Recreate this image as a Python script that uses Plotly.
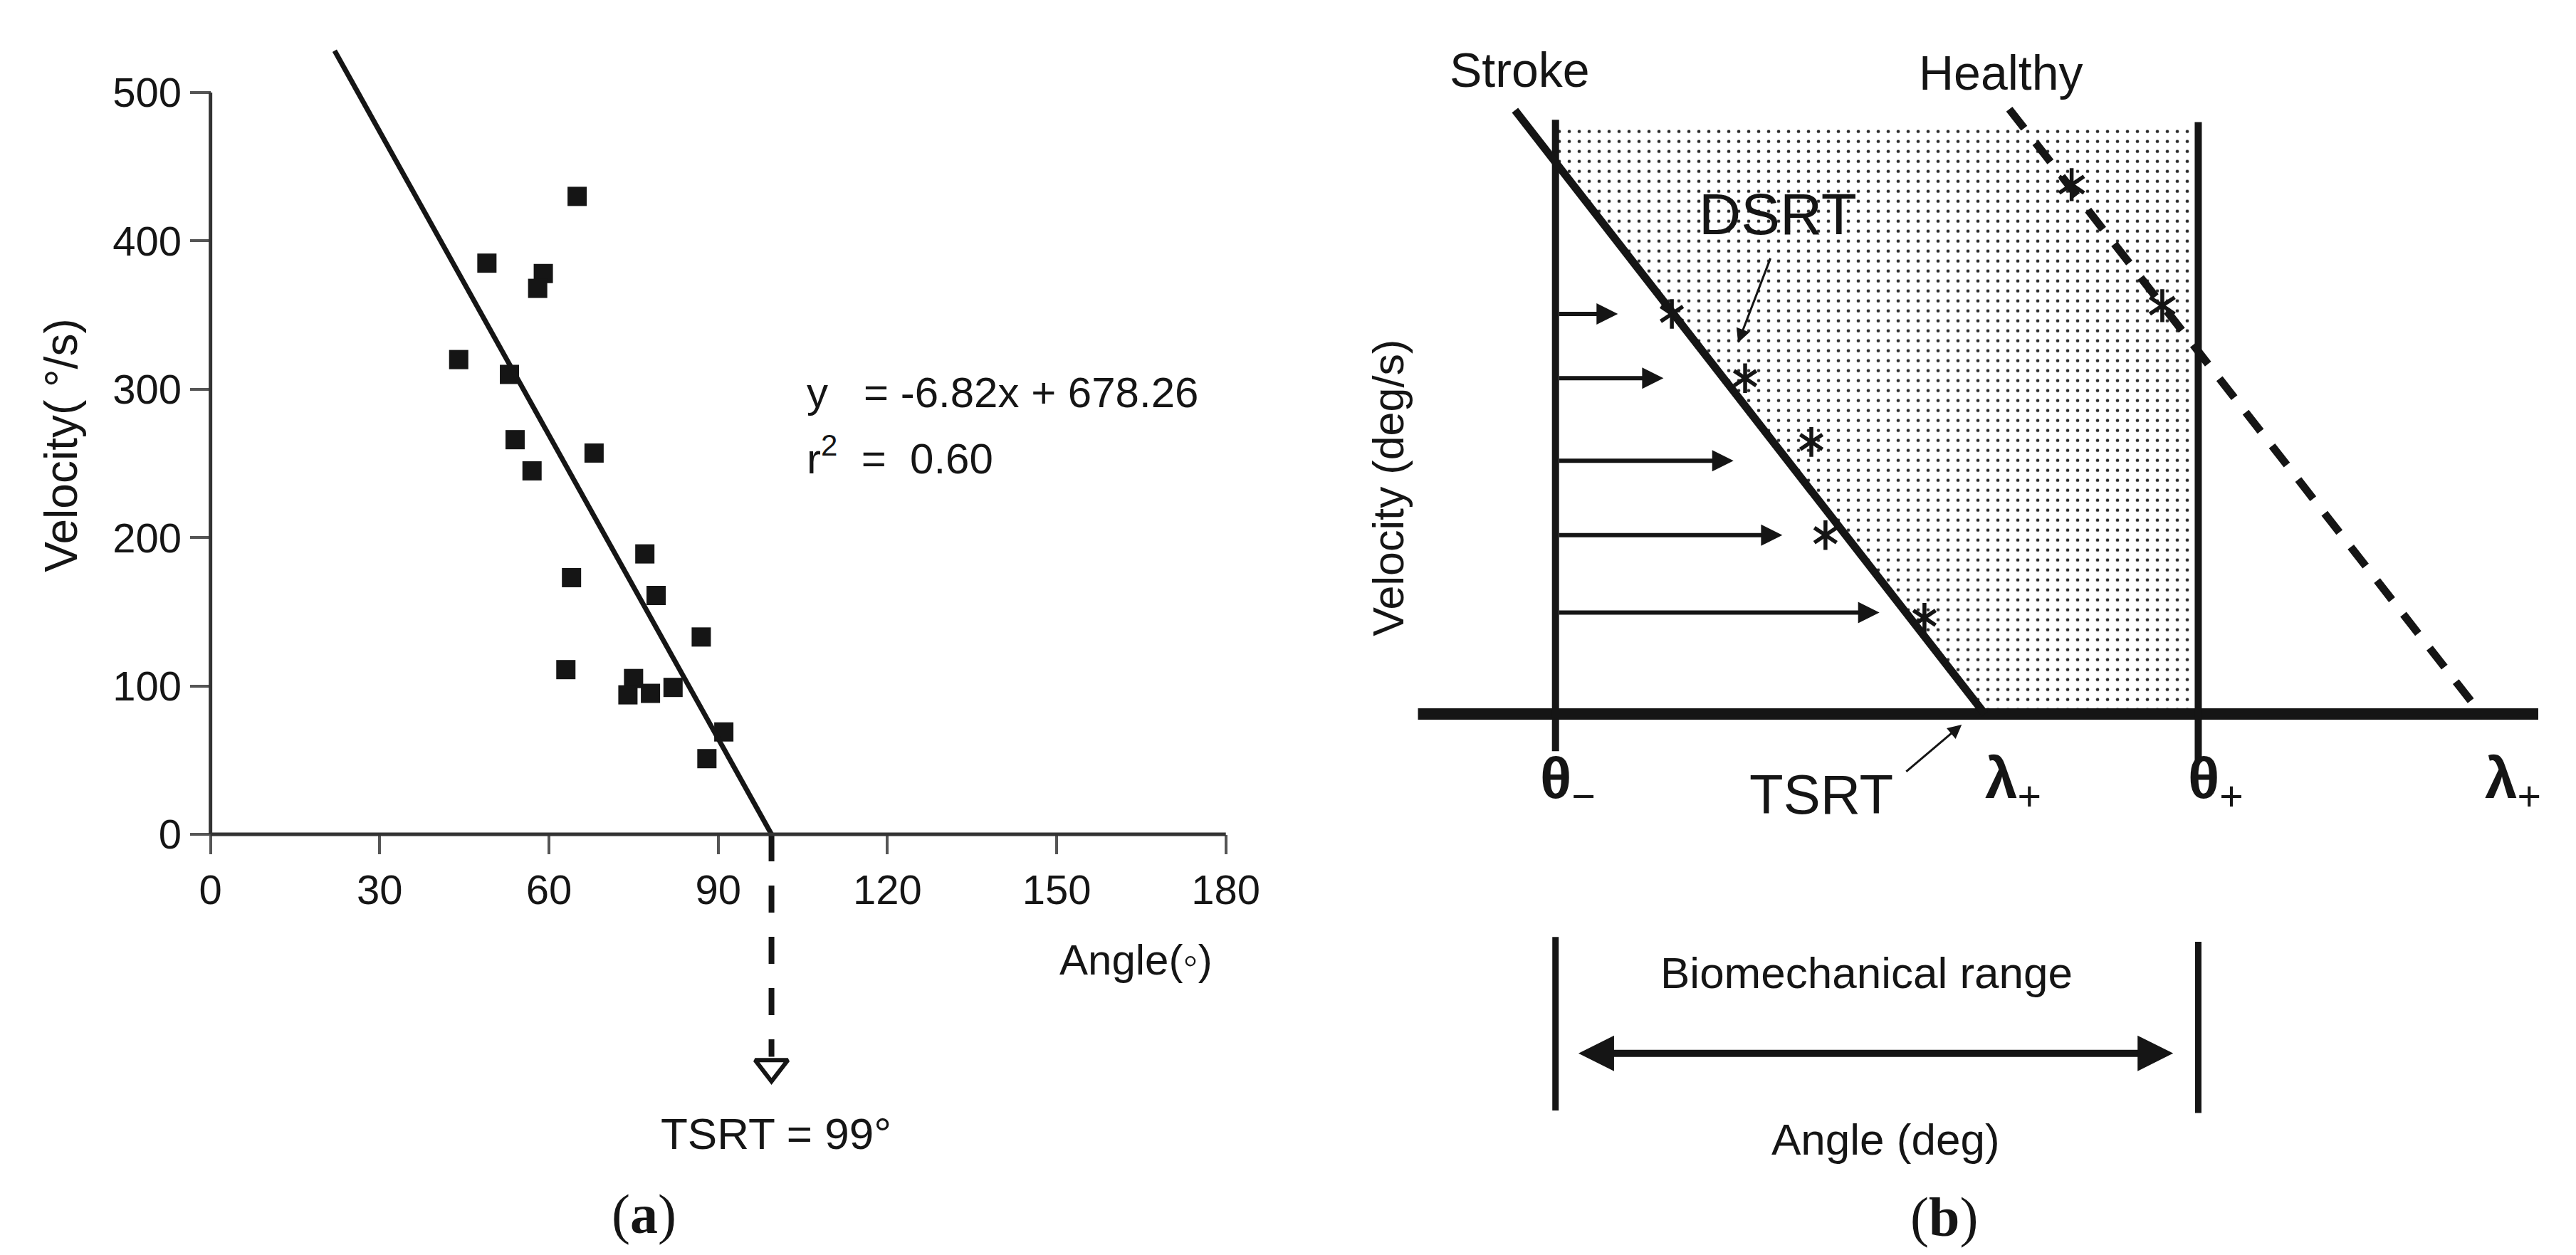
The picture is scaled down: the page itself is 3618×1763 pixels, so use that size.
import numpy as np
import plotly.graph_objects as go

W, H = 3618, 1763

# ---------------- panel (a) data ----------------
angle_deg = [65, 49, 59, 58, 44, 53, 54, 68, 57, 77, 64, 79, 87, 63, 75, 74, 78, 82, 91, 88]
velocity_dps = [430, 385, 378, 368, 320, 310, 266, 257, 245, 189, 173, 161, 133, 111, 105, 94, 95, 99, 69, 51]
fit_slope = -6.82
fit_intercept = 678.26
fit_r2 = 0.60
fit_angle_start = 22
tsrt_label_deg = 99
x_ticks_a = [0, 30, 60, 90, 120, 150, 180]
y_ticks_a = [0, 100, 200, 300, 400, 500]

# ---------------- panel (b) schematic data (arbitrary units: theta- = 0, theta+ = 100) ----------------
theta_minus = 0
theta_plus = 100
range_top = 100
stroke_angle = [-6.3, 66.8]
stroke_velocity = [102.3, 0]
healthy_angle = [70.6, 144.0]
healthy_velocity = [102.5, 0]
stroke_star_angle = [18.1, 29.5, 39.8, 42.0, 57.4]
stroke_star_velocity = [67.8, 56.9, 46.1, 30.3, 16.3]
healthy_star_angle = [80.3, 94.4]
healthy_star_velocity = [89.7, 69.2]
reflex_arrow_tip_angle = [9.7, 16.8, 27.7, 35.3, 50.4]
reflex_arrow_velocity = [67.8, 56.9, 42.9, 30.3, 17.2]
axis_b_extent = [-21.4, 152.9]

# ---------------- geometry helpers (layout) ----------------
def pxx(x):
    return x / W

def pxy(y):
    return 1 - y / H

# panel (a) pixel mapping
A_X0, A_KX = 289.0, 7.96      # px at angle 0, px per degree
A_Y0, A_KY = 1164.0, 2.084    # px at velocity 0, px per unit
a_xr = [-4, 184]
a_yr = [-230, 545]
a_xdom = [pxx(A_X0 + a_xr[0] * A_KX), pxx(A_X0 + a_xr[1] * A_KX)]
a_ydom = [pxy(A_Y0 - a_yr[0] * A_KY), pxy(A_Y0 - a_yr[1] * A_KY)]

# panel (b) pixel mapping
B_X0, B_KX = 2187.0, 9.07
B_Y0, B_KY = 995.0, 8.29
b_xr = [-25, 156]
b_yr = [-75, 108]
b_xdom = [pxx(B_X0 + b_xr[0] * B_KX), pxx(B_X0 + b_xr[1] * B_KX)]
b_ydom = [pxy(B_Y0 - b_yr[0] * B_KY), pxy(B_Y0 - b_yr[1] * B_KY)]

INK = '#151515'
FONT = 'Liberation Sans, Arial, Helvetica, sans-serif'

fig = go.Figure()

# ---------------- panel (a) traces ----------------
fig.add_trace(go.Scatter(
    x=angle_deg, y=velocity_dps, mode='markers',
    marker=dict(symbol='square', size=27, color=INK, line=dict(width=0)),
    xaxis='x', yaxis='y', hoverinfo='skip'))

tsrt_x = -fit_intercept / fit_slope
fit_x = [fit_angle_start, tsrt_x]
fit_y = [fit_slope * v + fit_intercept for v in fit_x]
fig.add_trace(go.Scatter(
    x=fit_x, y=fit_y, mode='lines', line=dict(color=INK, width=7),
    xaxis='x', yaxis='y', hoverinfo='skip'))

# dashed drop line to TSRT with open arrow head
fig.add_trace(go.Scatter(
    x=[tsrt_x, tsrt_x], y=[0, -150], mode='lines',
    line=dict(color=INK, width=8, dash='38px,34px'),
    xaxis='x', yaxis='y', hoverinfo='skip'))
fig.add_trace(go.Scatter(
    x=[tsrt_x], y=[-157], mode='markers',
    marker=dict(symbol='triangle-down-open', size=40, color=INK, line=dict(width=6, color=INK)),
    xaxis='x', yaxis='y', hoverinfo='skip', cliponaxis=False))

# ---------------- panel (b) traces ----------------
v_at_theta_minus = float(np.interp(theta_minus, stroke_angle, stroke_velocity))
fill_x = [theta_minus, theta_plus, theta_plus, stroke_angle[1], theta_minus, theta_minus]
fill_y = [range_top, range_top, 0, 0, v_at_theta_minus, range_top]
fig.add_trace(go.Scatter(
    x=fill_x, y=fill_y, mode='lines', fill='toself',
    line=dict(width=0, color='rgba(0,0,0,0)'), fillcolor='white',
    fillpattern=dict(shape='.', size=14, solidity=0.09, fgcolor='#2a2a2a', bgcolor='white', fgopacity=1),
    xaxis='x2', yaxis='y2', hoverinfo='skip'))

def bline(xs, ys, width, dash=None):
    fig.add_trace(go.Scatter(
        x=xs, y=ys, mode='lines',
        line=dict(color=INK, width=width, dash=dash),
        xaxis='x2', yaxis='y2', hoverinfo='skip'))

bline(axis_b_extent, [0, 0], 16)
bline([theta_minus, theta_minus], [-6.3, range_top + 0.7], 10)
bline([theta_plus, theta_plus], [-8.2, range_top + 0.3], 10)
bline(stroke_angle, stroke_velocity, 11)
bline(healthy_angle, healthy_velocity, 11, dash='34px,26px')
bline([theta_minus, theta_minus], [-37.8, -67.2], 9)
bline([theta_plus, theta_plus], [-38.6, -67.6], 9)

for sym in ['y-up-open', 'y-down-open']:
    for sx, sy, sz in [(stroke_star_angle, stroke_star_velocity, 26),
                       (healthy_star_angle, healthy_star_velocity, 29)]:
        fig.add_trace(go.Scatter(
            x=sx, y=sy, mode='markers',
            marker=dict(symbol=sym, size=sz, color=INK, line=dict(width=5.5, color=INK)),
            xaxis='x2', yaxis='y2', hoverinfo='skip'))

annotations = []

# reflex arrows from theta-
for tip, vel in zip(reflex_arrow_tip_angle, reflex_arrow_velocity):
    annotations.append(dict(
        x=tip, y=vel, ax=theta_minus + 0.4, ay=vel, xref='x2', yref='y2', axref='x2', ayref='y2',
        text='', showarrow=True, arrowhead=2, arrowsize=1.0, arrowwidth=6, arrowcolor=INK,
        standoff=0, startstandoff=0))

# DSRT and TSRT pointers
annotations.append(dict(x=28.4, y=62.9, ax=33.5, ay=77.4, xref='x2', yref='y2', axref='x2', ayref='y2',
                        text='', showarrow=True, arrowhead=2, arrowsize=1.3, arrowwidth=3, arrowcolor=INK))
annotations.append(dict(x=63.2, y=-1.8, ax=54.4, ay=-9.9, xref='x2', yref='y2', axref='x2', ayref='y2',
                        text='', showarrow=True, arrowhead=2, arrowsize=1.3, arrowwidth=3, arrowcolor=INK))

# biomechanical range double arrow
annotations.append(dict(x=96.1, y=-57.5, ax=3.4, ay=-57.5, xref='x2', yref='y2', axref='x2', ayref='y2',
                        text='', showarrow=True, arrowhead=2, startarrowhead=2, arrowside='end+start',
                        arrowsize=1.0, startarrowsize=1.0, arrowwidth=10, arrowcolor=INK,
                        standoff=0, startstandoff=0))

def label(text, x, y, size, xanchor='center', yanchor='middle', angle=0, family=FONT):
    annotations.append(dict(
        text=text, x=pxx(x), y=pxy(y), xref='paper', yref='paper',
        xanchor=xanchor, yanchor=yanchor, showarrow=False, textangle=angle,
        font=dict(family=family, size=size, color=INK)))

# panel (a) text
label('Velocity(\u00a0°/s)', 78, 618, 64, angle=-90)
label('Angle(◦)', 1705, 1340, 60, xanchor='right')
label(f'y\u00a0\u00a0\u00a0= {fit_slope:.2f}x + {fit_intercept:.2f}', 1128, 543, 60, xanchor='left')
label(f'r<sup>2</sup>\u00a0\u00a0=\u00a0\u00a0{fit_r2:.2f}', 1128, 632, 60, xanchor='left')
label(f'TSRT = {tsrt_label_deg}°', 1087, 1584, 62)
label('(<b>a</b>)', 901, 1697, 78, family='Liberation Serif, Times New Roman, serif')

# panel (b) text
label('Stroke', 2137, 90, 68)
label('Healthy', 2816, 94, 68)
label('DSRT', 2501, 292, 82)
label('Velocity (deg/s)', 1951, 677, 61, angle=-90)
label('<b>θ</b><sub>−</sub>', 2204, 1090, 82)
label('TSRT', 2562, 1108, 78)
label('<b>λ</b><sub>+</sub>', 2833, 1090, 82)
label('<b>θ</b><sub>+</sub>', 3119, 1090, 82)
label('<b>λ</b><sub>+</sub>', 3538, 1090, 82)
label('Biomechanical range', 2626, 1358, 62)
label('Angle (deg)', 2653, 1592, 62)
label('(<b>b</b>)', 2735, 1701, 78, family='Liberation Serif, Times New Roman, serif')

shapes = [
    dict(type='line', xref='x', yref='y', x0=0, y0=0, x1=180, y1=0, line=dict(color='#333333', width=5)),
    dict(type='line', xref='x', yref='y', x0=0, y0=0, x1=0, y1=500, line=dict(color='#333333', width=5)),
]

fig.update_layout(
    width=W, height=H, margin=dict(l=0, r=0, t=0, b=0),
    paper_bgcolor='white', plot_bgcolor='rgba(0,0,0,0)', showlegend=False,
    font=dict(family=FONT, size=60, color=INK),
    annotations=annotations, shapes=shapes,
    xaxis=dict(domain=a_xdom, range=a_xr, anchor='free', position=pxy(A_Y0),
               tickvals=x_ticks_a, ticktext=[str(v) for v in x_ticks_a],
               ticks='outside', ticklen=27, tickwidth=4, tickcolor='#555555',
               showline=False, showgrid=False, zeroline=False,
               tickfont=dict(size=58, color=INK, family=FONT)),
    yaxis=dict(domain=a_ydom, range=a_yr, anchor='free', position=pxx(A_X0),
               tickvals=y_ticks_a, ticktext=[str(v) for v in y_ticks_a],
               ticks='outside', ticklen=29, tickwidth=4, tickcolor='#555555',
               showline=False, showgrid=False, zeroline=False,
               tickfont=dict(size=58, color=INK, family=FONT)),
    xaxis2=dict(domain=b_xdom, range=b_xr, anchor='y2', visible=False),
    yaxis2=dict(domain=b_ydom, range=b_yr, anchor='x2', visible=False),
)

fig.write_html('out.html')
